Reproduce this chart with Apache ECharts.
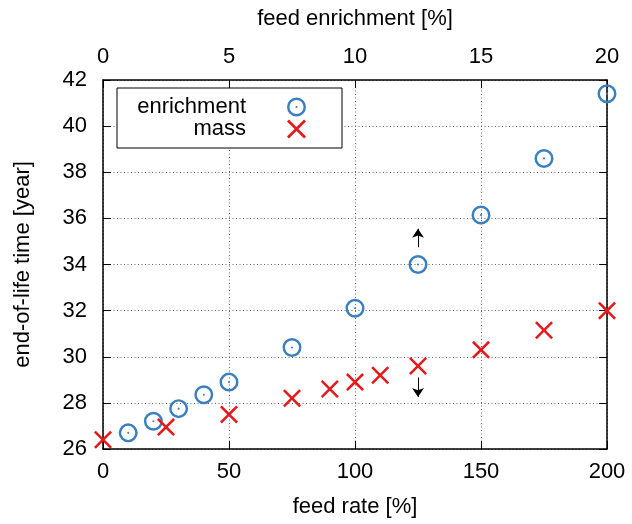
<!DOCTYPE html>
<html>
<head>
<meta charset="utf-8">
<script src="https://cdn.jsdelivr.net/npm/echarts@6/dist/echarts.min.js"></script>
<style>html,body{margin:0;padding:0;background:#fff}#c{width:632px;height:524px}</style>
</head>
<body>
<div id="c"></div>
<script>
// ---- data ----
const feedRate = [0, 25, 50, 75, 90, 100, 110, 125, 150, 175, 200];
const massEol = [26.4, 26.95, 27.5, 28.2, 28.6, 28.9, 29.2, 29.6, 30.3, 31.15, 32.0];
const feedEnrichment = [1, 2, 3, 4, 5, 7.5, 10, 12.5, 15, 17.5, 20];
const enrichmentEol = [26.7, 27.2, 27.75, 28.35, 28.9, 30.4, 32.1, 34.0, 36.15, 38.6, 41.4];
const arrowUp = [[125, 34.75], [125, 35.55]];
const arrowDown = [[125, 29.1], [125, 28.25]];
const seriesNames = ['enrichment', 'mass'];
const axisNames = { bottom: 'feed rate [%]', top: 'feed enrichment [%]', left: 'end-of-life time [year]' };

const FONT = 'Liberation Sans';
const FS = 22;
const BLUE = '#3a7fc0';
const RED = '#e41a1c';
const ringPath = 'path://M0,-10 A10,10 0 1,1 0,10 A10,10 0 1,1 0,-10 Z M0,-7.4 A7.4,7.4 0 1,0 0,7.4 A7.4,7.4 0 1,0 0,-7.4 Z M0,-1.1 A1.1,1.1 0 1,1 0,1.1 A1.1,1.1 0 1,1 0,-1.1 Z';
const crossPath = 'path://M-10,-8 L-8,-10 L0,-2 L8,-10 L10,-8 L2,0 L10,8 L8,10 L0,2 L-8,10 L-10,8 L-2,0 Z';

const grid = { type: [1, 2.5], color: '#666', width: 1 };
const axLine = { show: true, onZero: false, lineStyle: { color: '#000', width: 1.5 } };
const tick = { show: true, inside: true, length: 8, lineStyle: { color: '#000', width: 1 } };
const lab = { color: '#000', fontSize: FS, fontFamily: FONT };

const chart = echarts.init(document.getElementById('c'), null, { renderer: 'canvas' });
chart.setOption({
  animation: false,
  textStyle: { fontFamily: FONT },
  grid: { left: 103, right: 25, top: 80, bottom: 75, containLabel: false },
  xAxis: [
    { type: 'value', position: 'bottom', min: 0, max: 200, interval: 50,
      axisLine: axLine, axisTick: tick, axisLabel: Object.assign({ margin: 12 }, lab),
      splitLine: { show: true, lineStyle: grid },
      name: axisNames.bottom, nameLocation: 'middle', nameGap: 47,
      nameTextStyle: { color: '#000', fontSize: FS, fontFamily: FONT } },
    { type: 'value', position: 'top', min: 0, max: 20, interval: 5,
      axisLine: axLine, axisTick: tick, axisLabel: Object.assign({ margin: 12 }, lab),
      splitLine: { show: false },
      name: axisNames.top, nameLocation: 'middle', nameGap: 50,
      nameTextStyle: { color: '#000', fontSize: FS, fontFamily: FONT } }
  ],
  yAxis: [
    { type: 'value', position: 'left', min: 26, max: 42, interval: 2,
      axisLine: axLine, axisTick: tick, axisLabel: Object.assign({ margin: 16 }, lab),
      splitLine: { show: true, lineStyle: grid },
      name: axisNames.left, nameLocation: 'middle', nameGap: 69, nameRotate: 90,
      nameTextStyle: { color: '#000', fontSize: FS, fontFamily: FONT } },
    { type: 'value', position: 'right', min: 26, max: 42, interval: 2,
      axisLine: axLine, axisTick: tick, axisLabel: { show: false },
      splitLine: { show: false } }
  ],
  legend: {
    orient: 'vertical', left: 117, top: 88, align: 'right',
    backgroundColor: '#fff', borderColor: '#000', borderWidth: 1,
    padding: [8, 36, 8, 10], itemGap: 0, itemWidth: 19, itemHeight: 19,
    selectedMode: false,
    data: [{ name: seriesNames[0], icon: ringPath }, { name: seriesNames[1], icon: crossPath }],
    formatter: n => '{a|' + n + '}',
    textStyle: { rich: { a: { width: 119, align: 'right', padding: [0, 36, 0, 0], fontSize: FS, fontFamily: FONT, color: '#000', lineHeight: 24 } } }
  },
  series: [
    { name: seriesNames[0], type: 'scatter', xAxisIndex: 1, yAxisIndex: 0,
      symbol: ringPath, symbolSize: 19, itemStyle: { color: BLUE, opacity: 1 }, z: 3,
      data: feedEnrichment.map((x, i) => [x, enrichmentEol[i]]) },
    { name: seriesNames[1], type: 'scatter', xAxisIndex: 0, yAxisIndex: 0,
      symbol: crossPath, symbolSize: 18, itemStyle: { color: RED, opacity: 1 }, z: 3,
      data: feedRate.map((x, i) => [x, massEol[i]]),
      markLine: {
        silent: true, symbol: ['none', 'arrow'], symbolSize: 9,
        label: { show: false }, lineStyle: { color: '#000', width: 1, type: 'solid', opacity: 1 },
        emphasis: { disabled: true },
        data: [
          [{ coord: arrowUp[0] }, { coord: arrowUp[1] }],
          [{ coord: arrowDown[0] }, { coord: arrowDown[1] }]
        ]
      } }
  ]
});
</script>
</body>
</html>
